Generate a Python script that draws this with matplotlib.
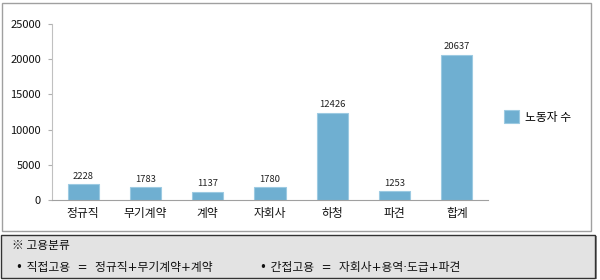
import matplotlib
matplotlib.use("Agg")
import matplotlib.pyplot as plt
from matplotlib.patches import Rectangle

plt.rcParams['font.family'] = ['Noto Sans CJK KR', 'DejaVu Sans']

categories = ['정규직', '무기계약', '계약', '자회사', '하청', '파견', '합계']
values = [2228, 1783, 1137, 1780, 12426, 1253, 20637]
yticks = [0, 5000, 10000, 15000, 20000, 25000]
legend_label = '노동자 수'
note_title = '※ 고용분류'
note_direct = '• 직접고용  =  정규직+무기계약+계약'
note_indirect = '• 간접고용  =  자회사+용역·도급+파견'

fig = plt.figure(figsize=(6, 2.8), dpi=100)
W, H = 600, 280

def fx(x): return x / W
def fy(y): return 1 - y / H

# outer chart border
fig.patches.append(Rectangle((fx(2), fy(231)), fx(591) - fx(2), fy(3) - fy(231),
                             transform=fig.transFigure, fill=False,
                             edgecolor='#a0a0a0', linewidth=1.0))
# note box shadow + box
fig.patches.append(Rectangle((fx(3), fy(279)), fx(597) - fx(3), fy(236) - fy(279),
                             transform=fig.transFigure, facecolor='#909090',
                             edgecolor='none'))
fig.patches.append(Rectangle((fx(1), fy(278)), fx(595) - fx(1), fy(235) - fy(278),
                             transform=fig.transFigure, facecolor='#e3e3e3',
                             edgecolor='#333333', linewidth=1.0))

ax = fig.add_axes([fx(52), fy(200), fx(488) - fx(52), fy(24) - fy(200)])
x = range(len(categories))
bars = ax.bar(x, values, width=0.5, color='#6fafd1', edgecolor='#9ccae2', linewidth=0.8,
              label=legend_label)
for xi, v in zip(x, values):
    ax.text(xi, v + 500, str(v), ha='center', va='bottom', fontsize=6.8, color='#222222')

ax.set_xlim(-0.5, len(categories) - 0.5)
ax.set_ylim(0, 25000)
ax.set_yticks(yticks)
ax.set_yticklabels([str(t) for t in yticks], fontsize=8, color='#111111')
ax.set_xticks(list(x))
ax.set_xticklabels(categories, fontsize=8.5, color='#111111')
ax.tick_params(axis='y', length=3, color='#b0b0b0', pad=5)
ax.tick_params(axis='x', length=0, pad=5)
for s in ['top', 'right']:
    ax.spines[s].set_visible(False)
ax.spines['left'].set_color('#c0c0c0')
ax.spines['bottom'].set_color('#a0a0a0')

leg = fig.legend(handles=[bars], labels=[legend_label], loc='center left',
                 bbox_to_anchor=(fx(493), fy(117)), frameon=False, fontsize=8.5,
                 handlelength=1.3, handleheight=1.3, handletextpad=0.5)

note_fam = ['DejaVu Sans', 'Noto Sans CJK KR']
fig.text(fx(12), fy(245), note_title, fontsize=8.5, va='center', ha='left', color='#111111')
fig.text(fx(16), fy(268), note_direct, fontsize=8.5, va='center', ha='left', color='#111111',
         family=note_fam)
fig.text(fx(260), fy(268), note_indirect, fontsize=8.5, va='center', ha='left', color='#111111',
         family=note_fam)

fig.savefig('out.png', dpi=100)
